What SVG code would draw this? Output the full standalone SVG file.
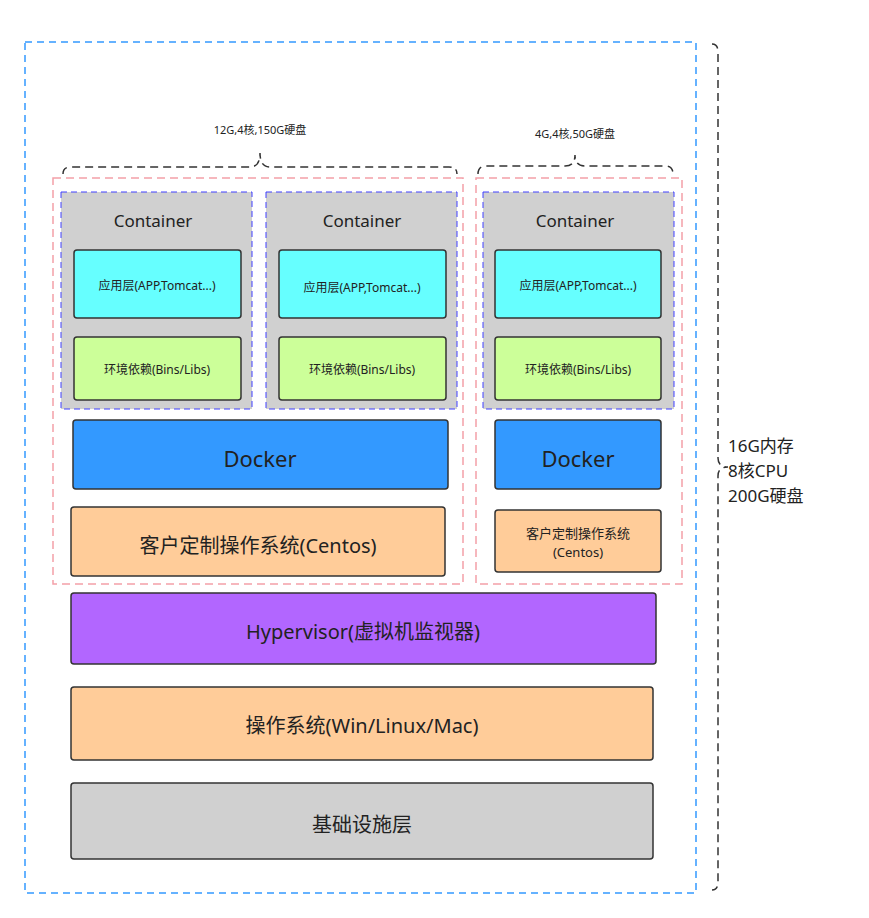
<svg xmlns="http://www.w3.org/2000/svg" width="869" height="918" viewBox="0 0 869 918">
<style>
text{font-family:"Noto Sans","Noto Sans CJK SC",sans-serif;text-anchor:middle;dominant-baseline:central;fill:#222}
.box{stroke:#333;stroke-width:1.5}
.cont{fill:#d0d0d0;stroke:#4040ff;stroke-width:1;stroke-dasharray:6 4}
.pink{fill:none;stroke:#f4a0a8;stroke-width:1.5;stroke-dasharray:8 5}
.brace{fill:none;stroke:#333;stroke-width:1.5;stroke-dasharray:8 5}
</style>
<rect width="869" height="918" fill="#fff"/>
<g id="outer"><rect x="25" y="42" width="671" height="851" fill="none" stroke="#3399ff" stroke-width="1.5" stroke-dasharray="7 5"/></g>
<g id="connectors">
<path class="brace" d="M712 44 Q718 44 718 52 L718 458 Q718 467 728 467 Q718 467 718 476 L718 882 Q718 890 712 890"/>
<path class="brace" d="M63 174 Q63 167 71 167 L250 167 Q260 167 260 153 Q260 167 270 167 L449 167 Q457 167 457 174"/>
<path class="brace" d="M478 174 Q478 166 486 166 L565 166 Q575 166 575 155 Q575 166 585 166 L665 166 Q673 166 673 174"/>
</g>
<g id="label-total"><text x="728" y="445" style="text-anchor:start;font-size:17px">16G内存</text><text x="728" y="470" style="text-anchor:start;font-size:17px">8核CPU</text><text x="728" y="495" style="text-anchor:start;font-size:17px">200G硬盘</text></g>
<g id="label-left"><text x="260" y="129" font-size="11">12G,4核,150G硬盘</text></g>
<g id="label-right"><text x="575" y="133" font-size="11">4G,4核,50G硬盘</text></g>
<g id="vm-left"><rect class="pink" x="53" y="178" width="410" height="406"/></g>
<g id="vm-right"><rect class="pink" x="476" y="178" width="206" height="406"/></g>
<g id="c1"><rect class="cont" x="61" y="192" width="191" height="217"/><text x="153" y="220" font-size="17">Container</text>
<rect class="box" x="74" y="250" width="167" height="68" rx="3" fill="#66ffff"/><text x="157" y="285" font-size="12">应用层(APP,Tomcat...)</text>
<rect class="box" x="74" y="337" width="167" height="63" rx="3" fill="#ccff99"/><text x="157" y="369" font-size="12">环境依赖(Bins/Libs)</text></g>
<g id="c2"><rect class="cont" x="266" y="192" width="191" height="217"/><text x="362" y="220" font-size="17">Container</text>
<rect class="box" x="279" y="250" width="167" height="68" rx="3" fill="#66ffff"/><text x="362" y="287" font-size="12">应用层(APP,Tomcat...)</text>
<rect class="box" x="279" y="337" width="167" height="63" rx="3" fill="#ccff99"/><text x="362" y="369" font-size="12">环境依赖(Bins/Libs)</text></g>
<g id="c3"><rect class="cont" x="483" y="192" width="191" height="217"/><text x="575" y="220" font-size="17">Container</text>
<rect class="box" x="495" y="250" width="166" height="68" rx="3" fill="#66ffff"/><text x="578" y="285" font-size="12">应用层(APP,Tomcat...)</text>
<rect class="box" x="495" y="337" width="166" height="63" rx="3" fill="#ccff99"/><text x="578" y="369" font-size="12">环境依赖(Bins/Libs)</text></g>
<g id="docker1"><rect class="box" x="73" y="420" width="375" height="69" rx="3" fill="#3399ff"/><text x="260" y="458" font-size="22">Docker</text></g>
<g id="docker2"><rect class="box" x="495" y="420" width="166" height="69" rx="3" fill="#3399ff"/><text x="578" y="458" font-size="22">Docker</text></g>
<g id="os1"><rect class="box" x="71" y="507" width="374" height="69" rx="3" fill="#ffcc99"/><text x="258" y="545" font-size="20">客户定制操作系统(Centos)</text></g>
<g id="os2"><rect class="box" x="495" y="510" width="166" height="62" rx="3" fill="#ffcc99"/><text x="578" y="533" font-size="13">客户定制操作系统</text><text x="578" y="552" font-size="13">(Centos)</text></g>
<g id="hyper"><rect class="box" x="71" y="593" width="585" height="71" rx="3" fill="#b266ff"/><text x="363" y="631" font-size="20">Hypervisor(虚拟机监视器)</text></g>
<g id="hostos"><rect class="box" x="71" y="687" width="582" height="73" rx="3" fill="#ffcc99"/><text x="362" y="725" font-size="20">操作系统(Win/Linux/Mac)</text></g>
<g id="infra"><rect class="box" x="71" y="783" width="582" height="76" rx="3" fill="#d0d0d0"/><text x="362" y="824" font-size="20">基础设施层</text></g>
</svg>
